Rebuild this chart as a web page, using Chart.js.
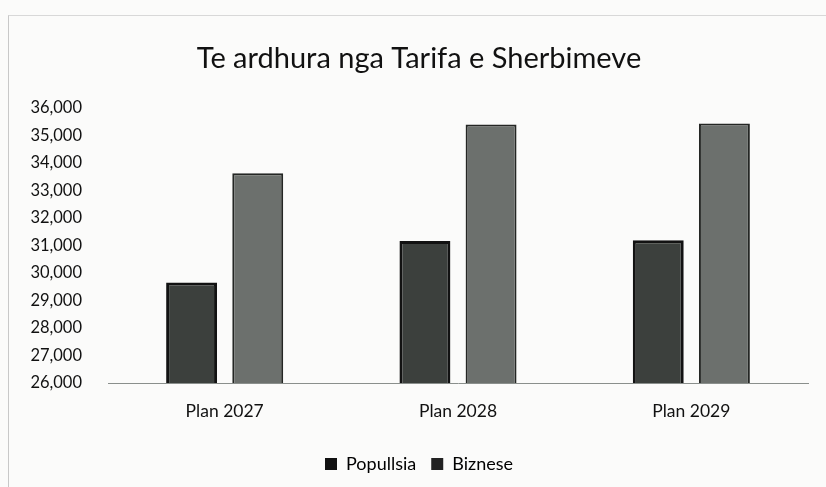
<!DOCTYPE html>
<html>
<head>
<meta charset="utf-8">
<script src="https://cdn.jsdelivr.net/npm/chart.js@4"></script>
<style>
  html, body { margin: 0; padding: 0; background: #fbfbfa; }
  #wrap { position: relative; width: 826px; height: 487px; }
  #frame { position: absolute; left: 8px; top: 15px; width: 830px; height: 480px;
           border-left: 1px solid #c8c8c8; border-top: 1px solid #d8d8d8; }
  canvas { position: absolute; left: 0; top: 0; }
</style>
</head>
<body>
<div id="wrap">
  <div id="frame"></div>
  <canvas id="c" width="826" height="487"></canvas>
</div>
<script>
const chartTitle = "Te ardhura nga Tarifa e Sherbimeve";
const categories = ["Plan 2027", "Plan 2028", "Plan 2029"];
const seriesNames = ["Popullsia", "Biznese"];
const popullsiaValues = [29650, 31160, 31190];
const bizneseValues = [33620, 35390, 35430];
const yMin = 26000, yMax = 36000, yStep = 1000;

const FONT = "Lato, 'Open Sans', sans-serif";

function draw() {
  new Chart(document.getElementById('c'), {
    type: 'bar',
    data: {
      labels: categories,
      datasets: [
        { label: seriesNames[0], data: popullsiaValues,
          backgroundColor: '#3c403d', borderColor: '#121212', borderWidth: 3 },
        { label: seriesNames[1], data: bizneseValues,
          backgroundColor: '#6c706d', borderColor: '#242624', borderWidth: 2 }
      ]
    },
    options: {
      responsive: false,
      animation: false,
      devicePixelRatio: 1,
      layout: { padding: { left: 30, right: 18, top: 21, bottom: 4 } },
      datasets: { bar: { categoryPercentage: 0.567, barPercentage: 0.77 } },
      plugins: {
        title: { display: true, text: chartTitle, color: '#111',
                 font: { family: FONT, size: 29, weight: 'normal' },
                 padding: { top: 20, bottom: 32 } },
        legend: { position: 'bottom',
                  labels: { color: '#111', font: { family: FONT, size: 18 },
                            boxWidth: 12, boxHeight: 12, padding: 15,
                            generateLabels: (chart) => chart.data.datasets.map((d, i) => ({
                              text: d.label, fillStyle: i === 0 ? '#111' : '#222',
                              strokeStyle: '#111', lineWidth: 0, datasetIndex: i
                            })) } },
        tooltip: { enabled: false }
      },
      scales: {
        x: {
          grid: { display: false, drawTicks: false },
          border: { display: true, color: '#8a8f8c', width: 1 },
          ticks: { color: '#111', font: { family: FONT, size: 17.5 }, padding: 18 }
        },
        y: {
          min: yMin, max: yMax,
          grid: { display: false, drawTicks: false },
          border: { display: false },
          afterFit: (scale) => { scale.width = 78; },
          ticks: { stepSize: yStep, color: '#111', font: { family: FONT, size: 16.5 }, padding: 26,
                   callback: (v) => v.toLocaleString('en-US') }
        }
      }
    }
  });
}

Promise.all([
  document.fonts.load('16px Lato'),
  document.fonts.load('29px Lato')
]).then(draw, draw);
</script>
</body>
</html>
